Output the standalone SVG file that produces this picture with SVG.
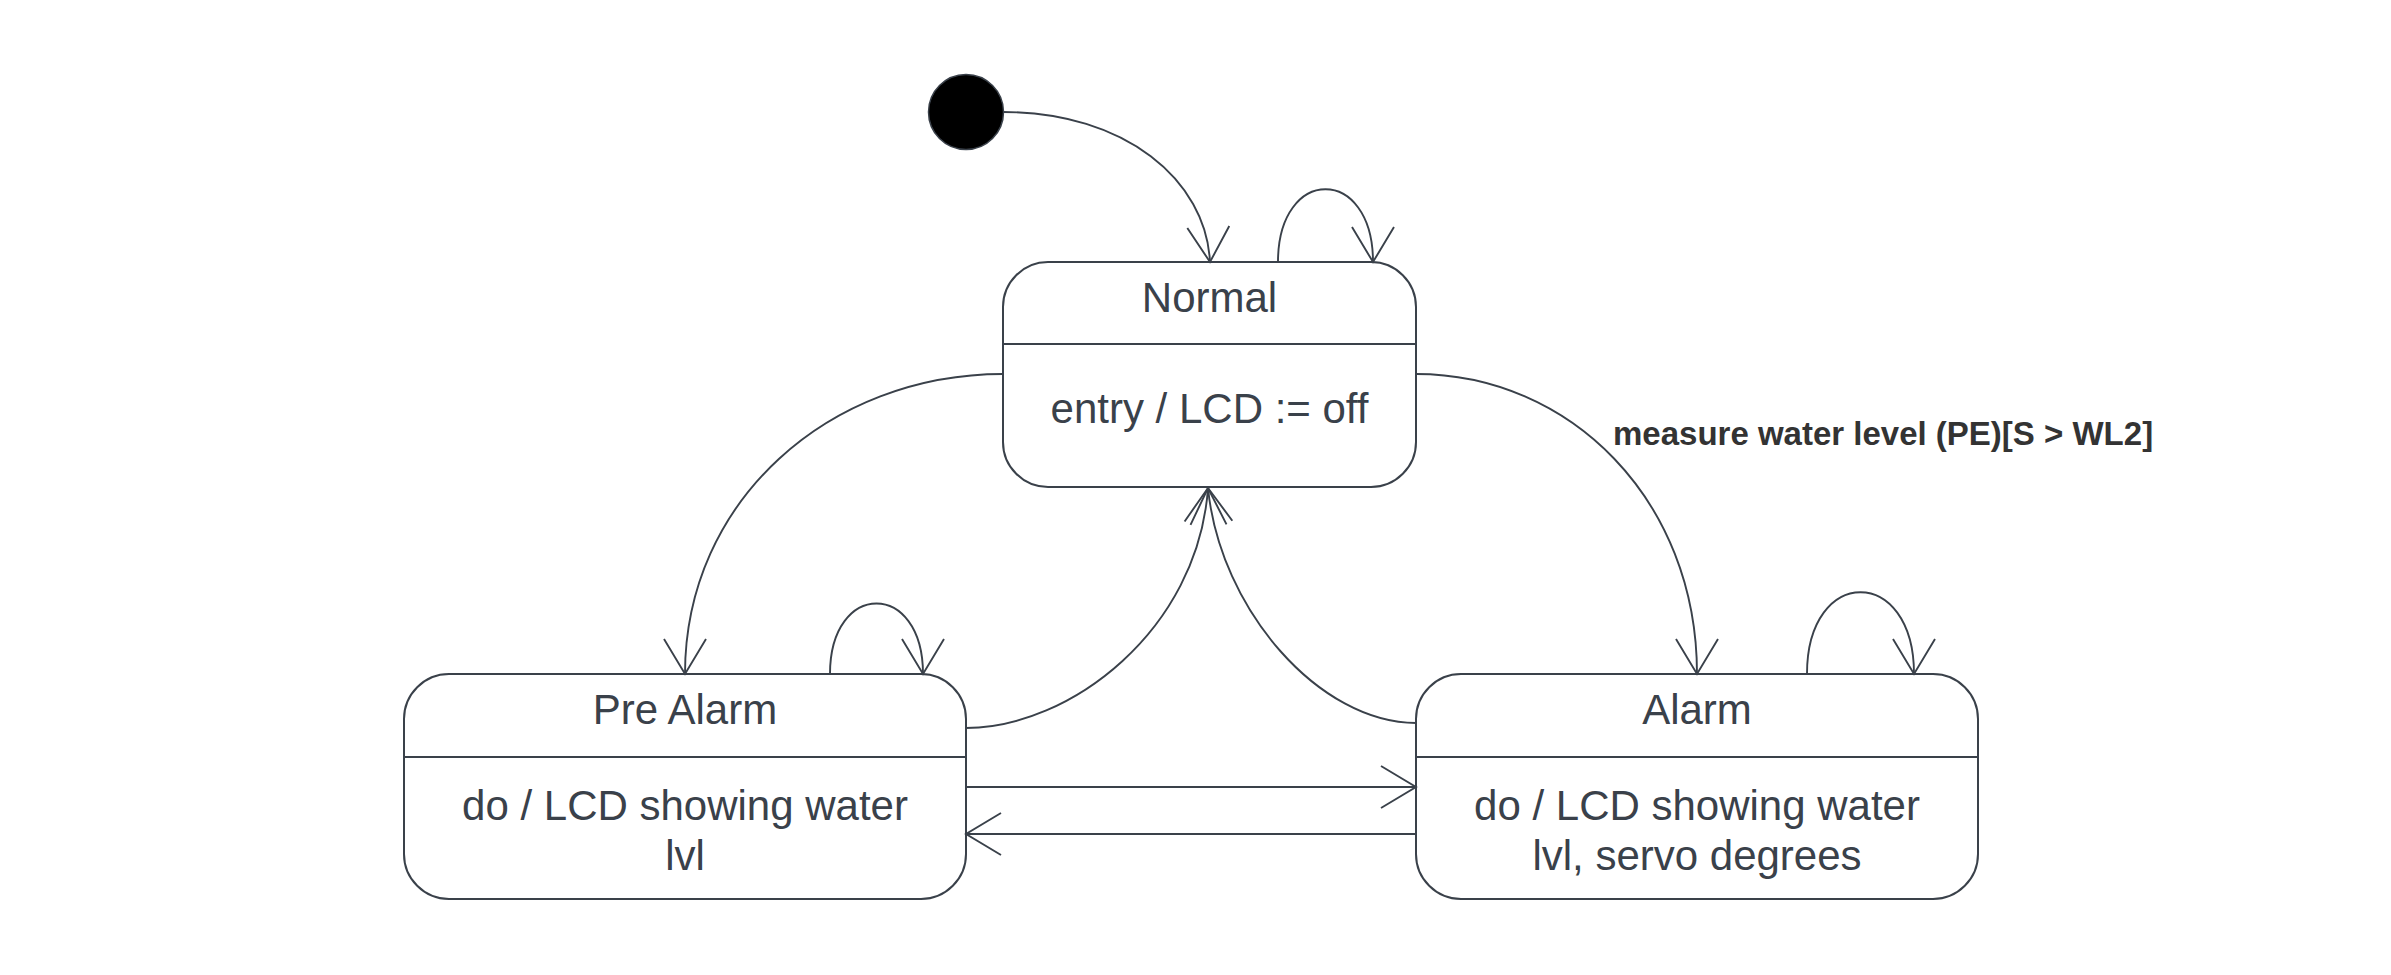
<svg xmlns="http://www.w3.org/2000/svg" width="2391" height="975" viewBox="0 0 2391 975">
<style>
.box{fill:#ffffff;stroke:#3a414a;stroke-width:2}
.div{stroke:#3a414a;stroke-width:2}
.t{font-family:"Liberation Sans",Arial,sans-serif;font-size:42px;fill:#3a414a;text-anchor:middle}
.lbl{font-family:"Liberation Sans",Arial,sans-serif;font-size:33px;font-weight:bold;fill:#333333}
.c{fill:none;stroke:#3a414a;stroke-width:1.9}
.a{marker-end:url(#arr)}
</style>
<defs>
<marker id="arr" markerUnits="userSpaceOnUse" markerWidth="44" markerHeight="44" refX="40" refY="22" orient="auto" overflow="visible">
<path d="M5,1 L40,22 L5,43" fill="none" stroke="#3a414a" stroke-width="1.9"/>
</marker>
</defs>
<rect width="2391" height="975" fill="#ffffff"/>

<g id="initial">
<circle cx="966" cy="112" r="37.5" fill="#000000" stroke="#3a414a" stroke-width="1.5"/>
</g>

<g id="normal">
<rect class="box" x="1003" y="262" width="413" height="225" rx="45" ry="45"/>
<line class="div" x1="1003" y1="344" x2="1416" y2="344"/>
<text class="t" x="1209.5" y="312">Normal</text>
<text class="t" x="1209.5" y="423">entry / LCD := off</text>
</g>

<g id="prealarm">
<rect class="box" x="404" y="674" width="562" height="225" rx="45" ry="45"/>
<line class="div" x1="404" y1="757" x2="966" y2="757"/>
<text class="t" x="685" y="724">Pre Alarm</text>
<text class="t" x="685" y="820">do / LCD showing water</text>
<text class="t" x="685" y="870">lvl</text>
</g>

<g id="alarm">
<rect class="box" x="1416" y="674" width="562" height="225" rx="45" ry="45"/>
<line class="div" x1="1416" y1="757" x2="1978" y2="757"/>
<text class="t" x="1697" y="724">Alarm</text>
<text class="t" x="1697" y="820">do / LCD showing water</text>
<text class="t" x="1697" y="870">lvl, servo degrees</text>
</g>

<g id="connectors">
<path class="c a" d="M1003,112 C1125,112 1206,180 1210,262"/>
<path class="c a" d="M1278,262 C1278,165 1373,165 1373,262"/>
<path class="c a" d="M1003,374 C830,374 685,500 685,674"/>
<path class="c a" d="M1416,374 C1570,374 1697,500 1697,674"/>
<path class="c a" d="M830,674 C830,580 923,580 923,674"/>
<path class="c a" d="M1807,674 C1807,565 1914,565 1914,674"/>
<path class="c a" d="M966,728 C1070,728 1198,630 1208,488"/>
<path class="c a" d="M1416,723 C1320,723 1220,610 1208,488"/>
<path class="c a" d="M966,787 L1416,787"/>
<path class="c a" d="M1416,834 L966,834"/>
<text class="lbl" x="1613" y="445">measure water level (PE)[S &gt; WL2]</text>
</g>
</svg>
